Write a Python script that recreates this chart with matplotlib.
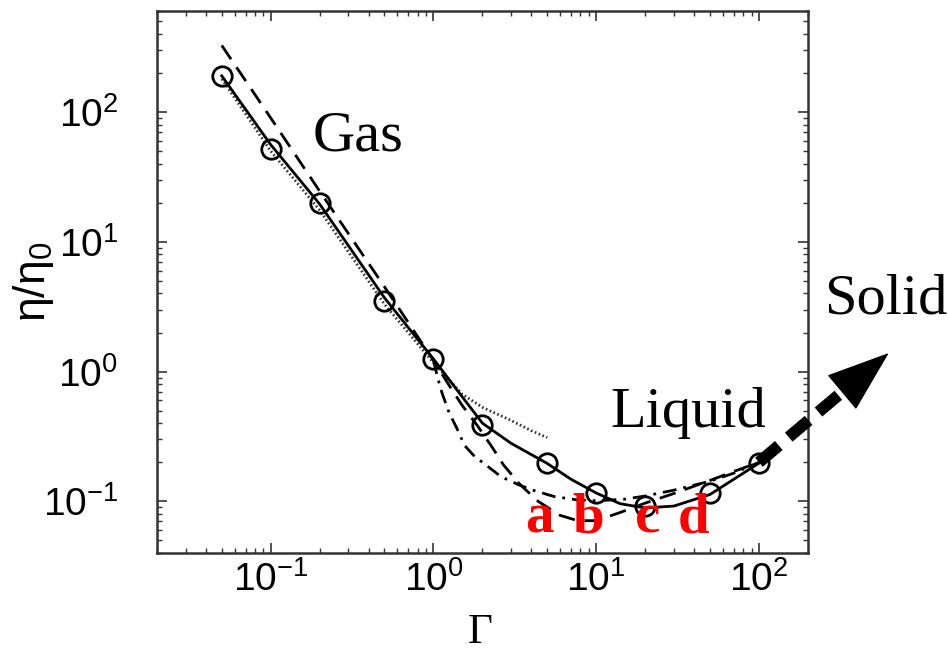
import matplotlib
matplotlib.use("Agg")
import matplotlib.pyplot as plt
from matplotlib.ticker import LogLocator, NullFormatter

plt.rcParams['font.family'] = ['Liberation Sans', 'DejaVu Sans']
plt.rcParams['mathtext.fontset'] = 'custom'
plt.rcParams['mathtext.rm'] = 'Liberation Sans'
plt.rcParams['mathtext.it'] = 'Liberation Sans:italic'

# simulation points (open circles)
gamma_pts = [0.05, 0.1, 0.2, 0.5, 1.0, 2.0, 5.0, 10.0, 20.0, 50.0, 100.0]
eta_pts = [190, 52, 20, 3.5, 1.25, 0.39, 0.198, 0.116, 0.092, 0.115, 0.197]

# fitted curve through the simulation points (solid)
fit_gamma = [0.05, 0.1, 0.2, 0.5, 1.0, 1.5, 2.0, 3.0, 5.0, 7.0, 10.0, 14.0, 20.0, 30.0, 50.0, 70.0, 100.0]
fit_eta = [190, 56, 19.5, 3.7, 1.25, 0.64, 0.4, 0.28, 0.196, 0.148, 0.116, 0.096, 0.089, 0.092, 0.113, 0.148, 0.197]

# model curve (long dashes)
dash_gamma = [0.05, 0.1, 0.2, 0.5, 1.0, 1.25, 1.5, 1.87, 2.3, 2.7, 3.4, 4.4, 6.0, 7.7, 10.0, 14.0, 20.0, 30.0, 50.0, 70.0, 100.0]
dash_eta = [326, 90, 24.5, 4.5, 1.22, 0.78, 0.55, 0.38, 0.26, 0.19, 0.135, 0.1, 0.078, 0.071, 0.071, 0.082, 0.097, 0.115, 0.145, 0.17, 0.2]

# model curve (dash-dot), liquid side only
dd_gamma = [1.0, 1.06, 1.13, 1.25, 1.4, 1.55, 1.8, 2.0, 2.6, 3.3, 4.0, 5.5, 7.5, 10.0, 15.0, 20.0, 30.0, 50.0, 70.0, 100.0]
dd_eta = [1.22, 0.9, 0.68, 0.48, 0.36, 0.27, 0.22, 0.2, 0.155, 0.135, 0.123, 0.109, 0.103, 0.101, 0.104, 0.11, 0.122, 0.143, 0.165, 0.2]

# weak-coupling (gas) theory (dotted)
dot_gamma = [0.05, 0.1, 0.2, 0.5, 1.0, 1.5, 2.0, 3.0, 4.0, 5.0]
dot_eta = [180, 50, 17.5, 3.3, 1.17, 0.67, 0.53, 0.42, 0.35, 0.31]

# red markers a-d
mark_labels = ['a', 'b', 'c', 'd']
mark_gamma = [4.5, 8.9, 20.8, 39.4]

fig = plt.figure(figsize=(9.49, 6.60), dpi=100)
ax = fig.add_axes([0.1654, 0.1621, 0.686, 0.8212])
ax.set_xscale('log')
ax.set_yscale('log')
ax.set_xlim(0.02, 200)
ax.set_ylim(0.04, 600)

ax.plot(dot_gamma, dot_eta, color='#333333', lw=2.0, linestyle=(0, (0.6, 0.9)))
ax.plot(dd_gamma, dd_eta, color='black', lw=2.0, linestyle=(0, (5, 2.5, 1, 2.5)))
ax.plot(dash_gamma, dash_eta, color='black', lw=2.0, linestyle=(0, (6, 3.5)))
ax.plot(fit_gamma, fit_eta, color='black', lw=2.0)
ax.plot(gamma_pts, eta_pts, linestyle='none', marker='o', ms=14, mfc='none',
        mec='black', mew=2.0)

# phase labels
ax.text(0.182, 50.7, 'Gas', family='Liberation Serif', fontsize=42, va='baseline')
ax.text(12.3, 0.376, 'Liquid', family='Liberation Serif', fontsize=42, va='baseline')
ax.text(253, 2.78, 'Solid', family='Liberation Serif', fontsize=42, va='baseline',
        clip_on=False)

for lab, g in zip(mark_labels, mark_gamma):
    ax.text(g, 0.0574, lab, color='red', family='Liberation Serif', fontweight='bold',
            fontsize=41, ha='center', va='baseline')

# dashed arrow towards the solid phase
ax.plot([100, 345], [0.2, 0.743], color='black', lw=8.5, linestyle=(0, (2.2, 1.1)),
        clip_on=False, zorder=5)
ax.annotate('', xy=(627, 1.39), xytext=(345, 0.743), annotation_clip=False,
            arrowprops=dict(arrowstyle='-|>,head_length=1.0,head_width=0.36',
                            mutation_scale=42, color='black', lw=1,
                            shrinkA=0, shrinkB=0), zorder=6)

for sp in ax.spines.values():
    sp.set_linewidth(1.8)
    sp.set_color('#333333')

ax.xaxis.set_minor_locator(LogLocator(base=10, subs=range(2, 10)))
ax.yaxis.set_minor_locator(LogLocator(base=10, subs=range(2, 10)))
ax.xaxis.set_minor_formatter(NullFormatter())
ax.yaxis.set_minor_formatter(NullFormatter())
ax.set_xticks([0.1, 1, 10, 100])
ax.set_yticks([0.1, 1, 10, 100])
ax.tick_params(which='both', direction='in', top=True, right=True, color='#333333')
ax.tick_params(which='major', length=7, width=1.2)
ax.tick_params(which='minor', length=3.5, width=1.0)
ax.tick_params(axis='x', which='major', labelsize=28, pad=6)
ax.tick_params(axis='y', which='major', labelsize=28, pad=28)

ax.set_xlabel('Γ', family='Liberation Serif', fontsize=31)
ax.xaxis.set_label_coords(0.497, -0.112)
ax.set_ylabel('$\\mathregular{η/η_0}$', fontsize=32)
ax.yaxis.set_label_coords(-0.155, 0.5)

fig.savefig('out.png', dpi=100)
